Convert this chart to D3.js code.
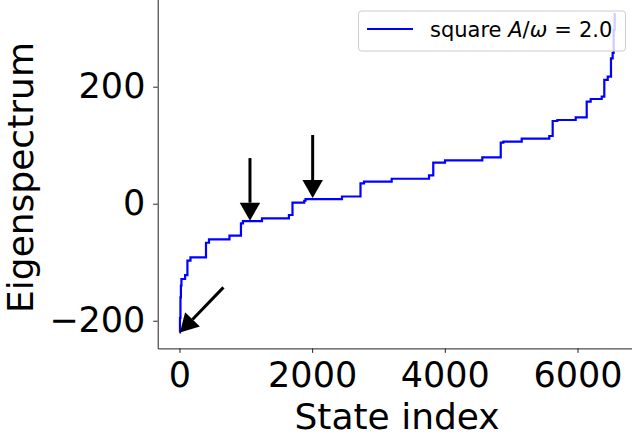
<!DOCTYPE html>
<html>
<head>
<meta charset="utf-8">
<script src="https://cdn.jsdelivr.net/npm/d3@7"></script>
<style>
  body { margin: 0; background: #fff; }
  text { font-family: "DejaVu Sans", sans-serif; }
</style>
</head>
<body>
<div id="chart"></div>
<script>
var stateIdx = [0, 8, 15, 22, 30, 85, 120, 166, 400, 445, 754, 927, 957, 1244, 1650, 1704, 1881, 1900,
                2450, 2729, 2782, 3199, 3762, 3826, 4003, 4565, 4843, 4882, 5159, 5575, 5626, 5696,
                5973, 6139, 6199, 6365, 6404, 6456, 6505, 6530, 6545, 6560];
var eigenVal = [-220, -195, -160, -140, -128.7, -121.9, -97.4, -91.6, -66.7, -60.9, -54.7, -33.5, -29.6,
                -25, -19.3, 2, 5.1, 8, 12.3, 34.9, 37.6, 42.7, 48.5, 70.1, 74.2, 79.3, 104.3, 106,
                111.1, 115.7, 141.4, 143.1, 147.7, 174.4, 179, 182.9, 211.5, 217.1, 248.5, 257.6, 297, 326];

var xTicks = [0, 2000, 4000, 6000];
var yTicks = [-200, 0, 200];

// annotation arrows (data coords)
var arrowTailX = [1063, 2008, 663];
var arrowTailY = [78, 117.4, -143];
var arrowTipX = [1063, 2008, 8];
var arrowTipY = [-29, 9.7, -220];

var legendLabel = "square ";

document.addEventListener('DOMContentLoaded', function(){
    var width = 632,
        height = 444;
    var left = 157.7, right = 636.4, top = -3, bottom = 348.4;

    var svg = d3.select("#chart").append("svg")
        .attr("width", width)
        .attr("height", height);

    var n = stateIdx[stateIdx.length - 1];
    var xPad = n * 0.05;
    var yMin = d3.min(eigenVal), yMax = d3.max(eigenVal);
    var yPad = (yMax - yMin) * 0.05;

    var x = d3.scaleLinear().domain([-xPad, n + xPad]).range([left, right]);
    var y = d3.scaleLinear().domain([yMin - yPad, yMax + yPad]).range([bottom, top]);

    var pts = stateIdx.map(function(d, i){ return [d, eigenVal[i]]; });
    var line = d3.line()
        .x(function(d){ return x(d[0]); })
        .y(function(d){ return y(d[1]); })
        .curve(d3.curveStepAfter);

    svg.append('path')
        .datum(pts)
        .attr('d', line)
        .attr('fill', 'none')
        .attr('stroke', '#0000ff')
        .attr('stroke-width', 2.2);

    // axes
    var fmt = function(d){ return String(d).replace('-', '\u2212'); };
    var xAxis = svg.append('g')
        .attr('transform', utils.translation(0, bottom))
        .call(d3.axisBottom(x).tickValues(xTicks).tickFormat(fmt).tickSize(4.5).tickPadding(9.4).tickSizeOuter(0));
    var yAxis = svg.append('g')
        .attr('transform', utils.translation(left, 0))
        .call(d3.axisLeft(y).tickValues(yTicks).tickFormat(fmt).tickSize(4.5).tickPadding(7.8).tickSizeOuter(0));
    [xAxis, yAxis].forEach(function(a){
        a.select('.domain').attr('stroke', '#222').attr('stroke-width', 1);
        a.selectAll('.tick line').attr('stroke', '#222').attr('stroke-width', 1);
        a.selectAll('.tick text')
            .attr('fill', '#000')
            .style('font-family', '"DejaVu Sans", sans-serif')
            .style('font-size', '35px');
    });

    svg.append('text')
        .attr('x', (left + right) / 2)
        .attr('y', 429)
        .attr('text-anchor', 'middle')
        .style('font-size', '36px')
        .text('State index');

    svg.append('text')
        .attr('transform', utils.translation(33, 177.5) + ' rotate(-90)')
        .attr('text-anchor', 'middle')
        .style('font-size', '36px')
        .text('Eigenspectrum');

    // arrows
    var headLen = 18, headW = 20.5;
    arrowTipX.forEach(function(d, i){
        var tx = x(arrowTailX[i]), ty = y(arrowTailY[i]);
        var px = x(d), py = y(arrowTipY[i]);
        var dx = px - tx, dy = py - ty;
        var len = Math.sqrt(dx*dx + dy*dy);
        var ux = dx/len, uy = dy/len;
        var bx = px - ux*headLen, by = py - uy*headLen;
        svg.append('line')
            .attr('x1', tx).attr('y1', ty)
            .attr('x2', bx).attr('y2', by)
            .attr('stroke', '#000')
            .attr('stroke-width', 3);
        var hw = headW / 2;
        svg.append('path')
            .attr('d', 'M' + px + ',' + py +
                  'L' + (bx - uy*hw) + ',' + (by + ux*hw) +
                  'L' + (bx + uy*hw) + ',' + (by - ux*hw) + 'Z')
            .attr('fill', '#000');
    });

    // legend
    var lg = svg.append('g');
    lg.append('rect')
        .attr('x', 358.5).attr('y', 11)
        .attr('width', 267).attr('height', 40)
        .attr('rx', 3)
        .attr('fill', '#fff').attr('fill-opacity', 0.8)
        .attr('stroke', '#cccccc').attr('stroke-width', 1);
    lg.append('line')
        .attr('x1', 367).attr('x2', 413)
        .attr('y1', 29).attr('y2', 29)
        .attr('stroke', '#0000ff').attr('stroke-width', 2.2);
    var t = lg.append('text')
        .attr('x', 430).attr('y', 37)
        .style('font-size', '21px');
    t.append('tspan').text(legendLabel);
    t.append('tspan').style('font-style', 'italic').text('A');
    t.append('tspan').text('/');
    t.append('tspan').style('font-style', 'italic').text('ω');
    t.append('tspan').attr('dx', 7).text('=');
    t.append('tspan').attr('dx', 7).text('2.0');
});

// Utils
var utils = {
    translation: function (x,y) {return 'translate(' + x + ',' + y + ')';}
}
</script>
</body>
</html>
